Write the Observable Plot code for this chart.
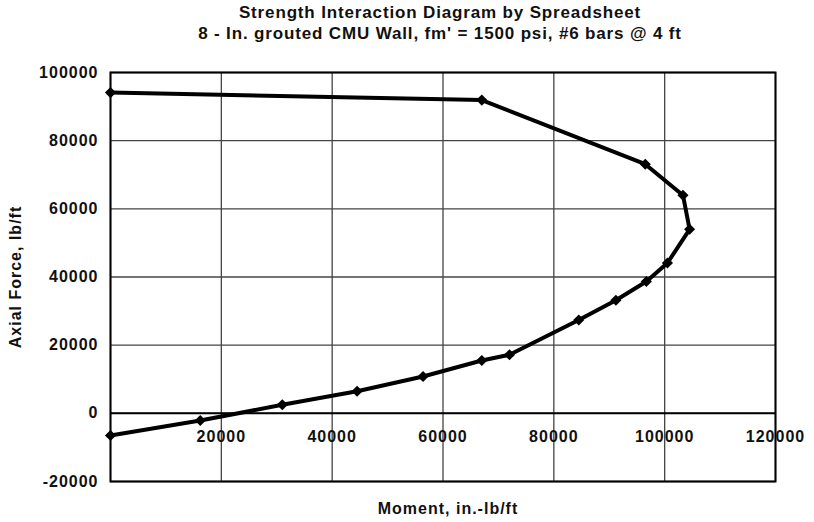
<!DOCTYPE html>
<html>
<head>
<meta charset="utf-8">
<script src="https://cdn.jsdelivr.net/npm/d3@7"></script>
<script src="https://cdn.jsdelivr.net/npm/@observablehq/plot@0.6"></script>
<style>
  body { margin: 0; background: #fff; }
  #title { box-sizing: border-box; width: 814px; height: 58px; padding-top: 2px; padding-left: 66px;
    text-align: center; font-family: "Liberation Sans", Arial, sans-serif; font-weight: bold;
    font-size: 17px; letter-spacing: 0.85px; line-height: 21px; color: #111; }
  svg { display: block; }
</style>
</head>
<body>
<div id="title">
  <div>Strength Interaction Diagram by Spreadsheet</div>
  <div>8 - In. grouted CMU Wall, fm' = 1500 psi, #6 bars @ 4 ft</div>
</div>
<div id="chart"></div>
<script>
const moment = [0, 67000, 96500, 103300, 104500, 100500, 96700, 91200, 84500, 72000, 67000, 56400, 44500, 31000, 16200, 0];
const axial  = [94100, 91900, 73100, 64000, 54000, 44100, 38700, 33200, 27400, 17200, 15500, 10800, 6500, 2500, -2100, -6500];
const xTicks = [0, 20000, 40000, 60000, 80000, 100000, 120000];
const yTicks = [-20000, 0, 20000, 40000, 60000, 80000, 100000];
const xTickLabels = ["", "20000", "40000", "60000", "80000", "100000", "120000"];
const xLabel = "Moment, in.-lb/ft";
const yLabel = "Axial Force, lb/ft";

const data = moment.map((m, i) => ({m, p: axial[i]}));
const font = "Liberation Sans, Arial, sans-serif";

const chart = Plot.plot({
  width: 814,
  height: 464,
  marginTop: 14,
  marginBottom: 41,
  marginLeft: 110,
  marginRight: 39,
  style: {fontFamily: font, fontWeight: "bold", color: "#111", background: "#fff", letterSpacing: "1px"},
  x: {domain: [0, 120000], axis: null},
  y: {domain: [-20000, 100000], axis: null},
  marks: [
    Plot.gridX(xTicks, {stroke: "#444", strokeOpacity: 1, strokeWidth: 1.3}),
    Plot.gridY(yTicks, {stroke: "#444", strokeOpacity: 1, strokeWidth: 1.3}),
    Plot.ruleY([0], {stroke: "#000", strokeWidth: 2}),
    Plot.frame({stroke: "#000", strokeWidth: 2}),
    Plot.line(data, {x: "m", y: "p", stroke: "#000", strokeWidth: 4}),
    Plot.dot(data, {x: "m", y: "p", symbol: "diamond2", r: 5, fill: "#000"}),
    Plot.axisY(yTicks, {tickSize: 0, tickPadding: 12, tickFormat: d => String(d), fontSize: 16, fontWeight: "bold", label: null}),
    Plot.text(xTicks.map((t, i) => ({t, s: xTickLabels[i]})), {x: "t", y: () => 0, dy: 24, text: "s", fontSize: 16, fontWeight: "bold"}),
    Plot.text([xLabel], {frameAnchor: "bottom", lineAnchor: "middle", textAnchor: "middle", dy: 27, dx: 5, fontSize: 16, fontWeight: "bold"}),
    Plot.text([yLabel], {frameAnchor: "left", lineAnchor: "middle", textAnchor: "middle", dx: -95, rotate: -90, fontSize: 16, fontWeight: "bold"})
  ]
});
document.getElementById("chart").appendChild(chart);
</script>
</body>
</html>
